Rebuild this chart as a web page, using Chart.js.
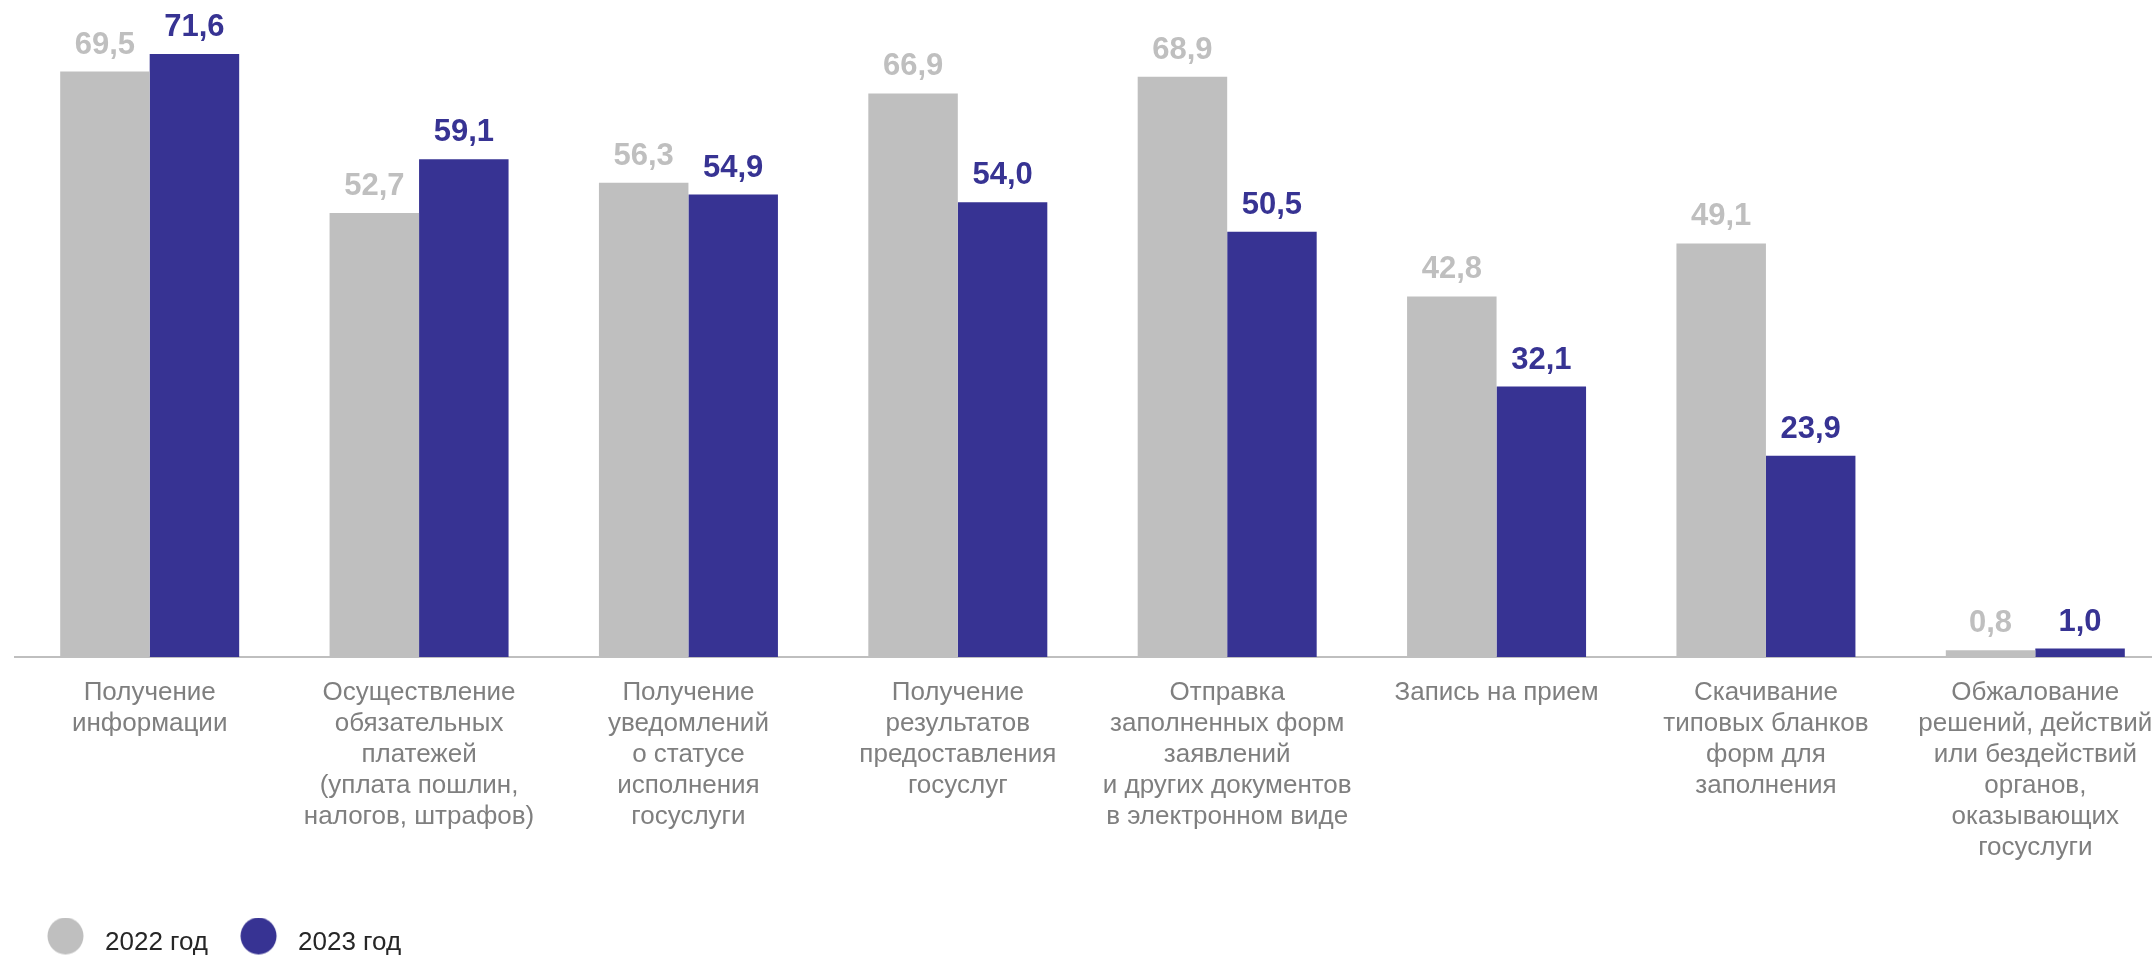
<!DOCTYPE html>
<html lang="ru">
<head>
<meta charset="utf-8">
<title>Госуслуги 2022–2023</title>
<script src="https://cdn.jsdelivr.net/npm/chart.js@4.4.1/dist/chart.umd.min.js"></script>
<style>
  html, body { margin: 0; padding: 0; background: #fff; overflow: hidden; }
  #chart-container { position: relative; width: 2170px; height: 966px; }
</style>
</head>
<body>
<div id="chart-container">
  <canvas id="chart"></canvas>
</div>
<script>
const categories = [
  ['Получение', 'информации'],
  ['Осуществление', 'обязательных', 'платежей', '(уплата пошлин,', 'налогов, штрафов)'],
  ['Получение', 'уведомлений', 'о статусе', 'исполнения', 'госуслуги'],
  ['Получение', 'результатов', 'предоставления', 'госуслуг'],
  ['Отправка', 'заполненных форм', 'заявлений', 'и других документов', 'в электронном виде'],
  ['Запись на прием'],
  ['Скачивание', 'типовых бланков', 'форм для', 'заполнения'],
  ['Обжалование', 'решений, действий', 'или бездействий', 'органов,', 'оказывающих', 'госуслуги']
];
const values2022 = [69.5, 52.7, 56.3, 66.9, 68.9, 42.8, 49.1, 0.8];
const values2023 = [71.6, 59.1, 54.9, 54.0, 50.5, 32.1, 23.9, 1.0];
const seriesNames = ['2022 год', '2023 год'];

const colors = ['#bfbfbf', '#373393'];
const FONT = '"Liberation Sans", Arial, sans-serif';

// legend marker: circle sitting at the left/top of a wider transparent box
const makeDot = (color) => {
  const c = document.createElement('canvas');
  c.width = 45;
  c.height = 51;
  const g = c.getContext('2d');
  g.fillStyle = color;
  g.beginPath();
  g.ellipse(18.5, 18.5, 18, 18.5, 0, 0, Math.PI * 2);
  g.fill();
  return c;
};

const valueLabels = {
  id: 'valueLabels',
  afterDatasetsDraw(chart) {
    const ctx = chart.ctx;
    ctx.save();
    ctx.font = 'bold 31px ' + FONT;
    ctx.textAlign = 'center';
    ctx.textBaseline = 'alphabetic';
    chart.data.datasets.forEach((ds, i) => {
      const meta = chart.getDatasetMeta(i);
      ctx.fillStyle = colors[i];
      meta.data.forEach((bar, j) => {
        const txt = ds.data[j].toFixed(1).replace('.', ',');
        ctx.fillText(txt, bar.x, bar.y - 18);
      });
    });
    ctx.restore();
  }
};

new Chart(document.getElementById('chart'), {
  type: 'bar',
  data: {
    labels: categories,
    datasets: [
      {
        label: seriesNames[0],
        data: values2022,
        backgroundColor: colors[0],
        pointStyle: makeDot(colors[0]),
        categoryPercentage: 0.6645,
        barPercentage: 1
      },
      {
        label: seriesNames[1],
        data: values2023,
        backgroundColor: colors[1],
        pointStyle: makeDot(colors[1]),
        categoryPercentage: 0.6645,
        barPercentage: 1
      }
    ]
  },
  options: {
    responsive: true,
    maintainAspectRatio: false,
    animation: false,
    layout: { padding: { left: 15, right: 0, top: 0, bottom: 0 } },
    plugins: {
      tooltip: { enabled: false },
      legend: {
        position: 'bottom',
        align: 'start',
        labels: {
          usePointStyle: true,
          pointStyleWidth: 45,
          boxHeight: 26,
          padding: 32,
          color: '#262626',
          font: { family: FONT, size: 26 }
        }
      }
    },
    scales: {
      x: {
        grid: { display: false },
        border: { display: true, color: '#bfbfbf', width: 2 },
        ticks: {
          autoSkip: false,
          maxRotation: 0,
          minRotation: 0,
          padding: 12,
          color: '#7f7f7f',
          font: { family: FONT, size: 26, lineHeight: '31px' }
        },
        afterFit(scale) {
          scale.height = 241;
        }
      },
      y: {
        display: false,
        min: 0,
        max: 78
      }
    }
  },
  plugins: [valueLabels]
});
</script>
</body>
</html>
